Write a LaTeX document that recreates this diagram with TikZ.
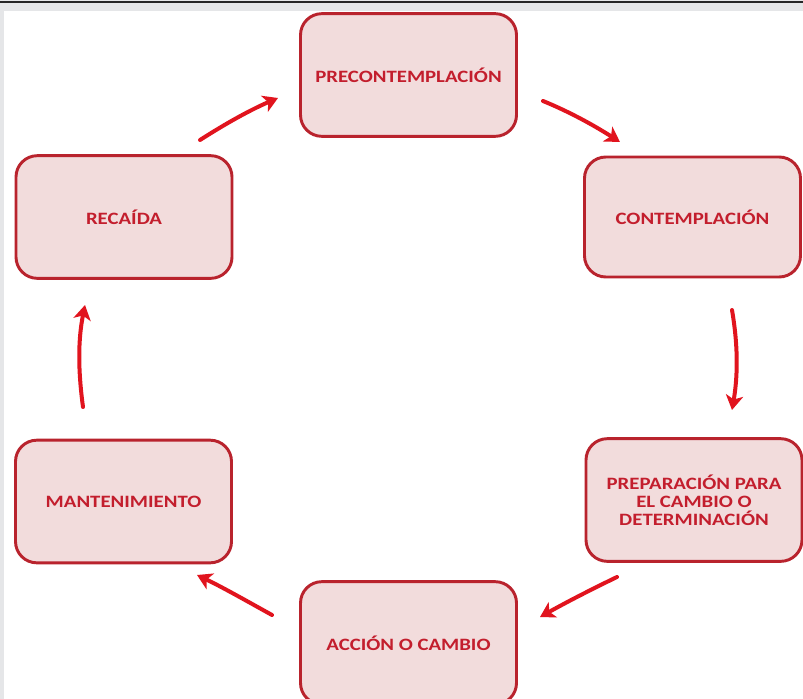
\documentclass[tikz,border=0pt]{standalone}
\usepackage{fontspec}
\setmainfont{Carlito}[FakeStretch=1.2]
\usetikzlibrary{arrows.meta}
\definecolor{boxfill}{RGB}{242,220,220}
\definecolor{boxline}{RGB}{185,35,45}
\definecolor{txtred}{RGB}{195,30,45}
\definecolor{arrred}{RGB}{225,20,30}
\definecolor{bandgray}{RGB}{229,230,232}
\tikzset{
  stage/.style={draw=boxline, fill=boxfill, line width=2.2pt, rounded corners=16pt,
    minimum width=162pt, minimum height=92pt, align=center, text=txtred,
    font=\fontsize{13}{13.5}\selectfont\bfseries, inner sep=2pt},
  flow/.style={draw=arrred, line width=3pt, line cap=round,
    -{Stealth[length=11pt,width=13pt,inset=3pt]}}
}
\begin{document}
\begin{tikzpicture}[x=0.75pt,y=-0.75pt]
\useasboundingbox (0,0) rectangle (803,699);
\fill[bandgray] (0,0) rectangle (803,699);
\fill[white] (4,11) rectangle (803,699);
\fill[black!85] (0,1) rectangle (803,3);
\node[stage] (pre) at (408.5,75) {PRECONTEMPLACIÓN};
\node[stage, minimum height=90pt] (con) at (692.5,217) {CONTEMPLACIÓN};
\node[stage] (prep) at (694,500) {PREPARACIÓN PARA\\EL CAMBIO O\\DETERMINACIÓN};
\node[stage] (acc) at (408.5,643) {ACCIÓN O CAMBIO};
\node[stage] (man) at (123.5,501.5) {MANTENIMIENTO};
\node[stage] (rec) at (124,217) {RECAÍDA};
\coordinate (a1s) at (200,140); \coordinate (a1e) at (278,98);
\coordinate (a2s) at (543,101); \coordinate (a2e) at (620,142);
\coordinate (a3s) at (732,310); \coordinate (a3e) at (732,410);
\coordinate (a4s) at (617,577); \coordinate (a4e) at (540,617);
\coordinate (a5s) at (272,615); \coordinate (a5e) at (197,575);
\coordinate (a6s) at (83,407);  \coordinate (a6e) at (85,305);
\draw[flow] (a1s) .. controls (225,124) and (250,110) .. (a1e);
\draw[flow] (a2s) .. controls (570,112) and (595,126) .. (a2e);
\draw[flow] (a3s) .. controls (738,345) and (738,375) .. (a3e);
\draw[flow] (a4s) .. controls (590,590) and (565,603) .. (a4e);
\draw[flow] (a5s) .. controls (245,600) and (222,587) .. (a5e);
\draw[flow] (a6s) .. controls (78,370) and (78,340) .. (a6e);
\end{tikzpicture}
\end{document}
